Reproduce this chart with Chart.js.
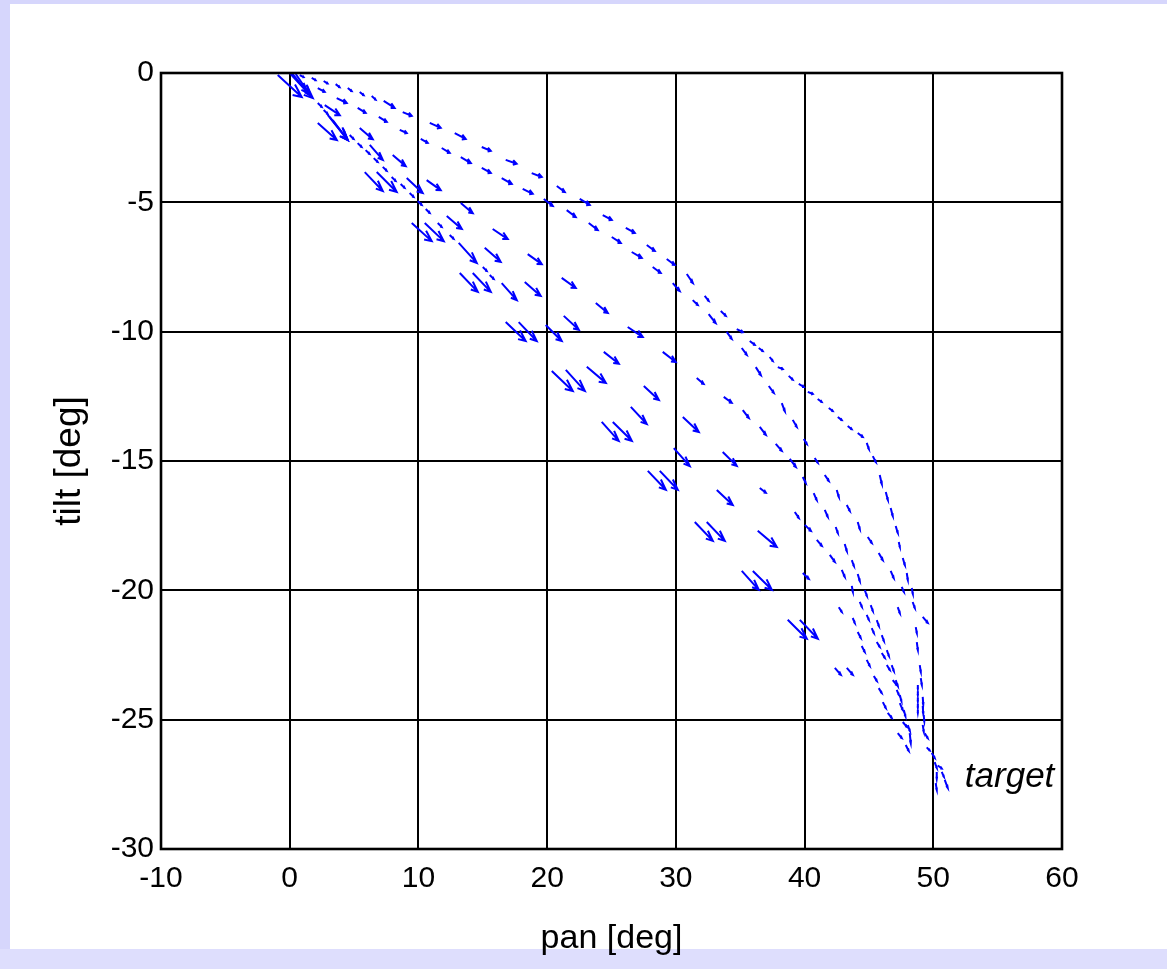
<!DOCTYPE html>
<html><head><meta charset="utf-8">
<script src="https://cdn.jsdelivr.net/npm/chart.js@4.4.1/dist/chart.umd.min.js"></script>
<style>html,body{margin:0;padding:0;background:#fff;overflow:hidden}canvas{display:block}</style>
</head><body>
<canvas id="c" width="1167" height="969"></canvas>
<script>
// axis ticks
const xTicks = [-10, 0, 10, 20, 30, 40, 50, 60];
const yTicks = [-30, -25, -20, -15, -10, -5, 0];

// quiver arrows: [pan, tilt, dPan, dTilt]
const longA = [
  [-0.93,-0.08,1.86,-0.85],[2.18,-1.93,1.48,-0.66],[5.83,-3.83,1.40,-0.73],[9.48,-5.80,1.55,-0.70],
  [13.21,-7.73,1.40,-0.73],[16.78,-9.63,1.55,-0.73],[20.36,-11.52,1.63,-0.77],[24.24,-13.49,1.32,-0.73],
  [27.82,-15.38,1.40,-0.73],[31.47,-17.36,1.40,-0.73],[35.12,-19.25,1.32,-0.73],[38.69,-21.14,1.48,-0.73],
  [42.35,-23.0,0.47,-0.27]
];
const longB = [
  [0,0,1.79,-0.97],[2.95,-1.62,1.55,-0.97],[6.76,-3.83,1.55,-0.77],[10.49,-5.80,1.48,-0.70],
  [14.22,-7.73,1.40,-0.73],[17.79,-9.63,1.40,-0.73],[21.45,-11.48,1.48,-0.81],[25.10,-13.49,1.48,-0.73],
  [28.75,-15.38,1.40,-0.73],[32.40,-17.36,1.40,-0.73],[35.98,-19.25,1.48,-0.73],[39.63,-21.14,1.40,-0.73],
  [43.28,-23.0,0.47,-0.27]
];
const bundle = [
  [0.16,0,1.24,-0.77],[0.47,-0.04,1.17,-0.85],[3.1,-1.7,1.4,-0.89],[3.34,-1.82,1.17,-0.77]
];
const pathUA = [
  [0.78,-0.08,0.3,-0.08],[1.71,-0.19,0.3,-0.09],[2.64,-0.31,0.3,-0.1],[3.57,-0.43,0.3,-0.12],
  [4.51,-0.58,0.3,-0.12],[5.44,-0.73,0.3,-0.13],[6.37,-0.89,0.3,-0.14],[7.3,-1.08,0.85,-0.27],
  [8.78,-1.51,0.70,-0.15],[10.88,-1.93,0.85,-0.19],[12.82,-2.32,0.85,-0.23],[14.92,-2.86,0.70,-0.15],
  [16.78,-3.36,0.85,-0.15],[18.8,-3.87,0.78,-0.15],[20.75,-4.37,0.62,-0.23],[22.53,-4.87,0.78,-0.23],
  [24.32,-5.49,0.70,-0.19],[26.11,-5.99,0.70,-0.19],[27.74,-6.65,0.62,-0.23],[29.29,-7.19,0.62,-0.23],
  [30.85,-7.77,0.47,-0.35],[32.24,-8.62,0.31,-0.19],[33.49,-9.2,0.39,-0.19],[34.73,-9.9,0.47,-0.12],
  [35.74,-10.36,0.39,-0.15],[36.44,-10.63,0.31,-0.12],[37.29,-10.98,0.23,-0.15],[37.92,-11.37,0.39,-0.08],
  [38.77,-11.71,0.31,-0.15],[39.55,-12.02,0.39,-0.12],[40.25,-12.33,0.39,-0.08],[41.02,-12.6,0.31,-0.12],
  [41.88,-12.95,0.31,-0.12],[42.58,-13.3,0.31,-0.12],[43.35,-13.65,0.31,-0.12],[44.13,-13.92,0.39,-0.15],
  [44.83,-14.3,0.16,-0.23],[45.3,-14.81,0.23,-0.23],[45.84,-15.54,0.16,-0.35],[46.31,-16.2,0.16,-0.31],
  [46.69,-16.82,0.16,-0.31],[47.08,-17.51,0.16,-0.27],[47.32,-18.13,0.08,-0.19],[47.63,-18.75,0.16,-0.27],
  [47.94,-19.33,0.08,-0.27],[48.33,-19.91,0.08,-0.23],[48.4,-20.45,0.16,-0.23],[49.18,-21.03,0.39,-0.23],
  [48.8,-23.66,0,-0.15],[48.8,-23.9,0,-0.15],[48.8,-24.14,0,-0.15],[48.8,-24.38,0,-0.15],[48.8,-24.62,0,-0.12],
  [50.35,-26.77,0.31,-0.12],[50.66,-27.02,0.16,-0.19],[50.89,-27.33,0.23,-0.31]
];
const pathUB = [
  [2.18,-0.58,0.54,-0.15],[3.65,-0.97,0.78,-0.19],[5.28,-1.35,0.62,-0.19],[6.92,-1.7,0.62,-0.19],
  [8.55,-2.2,0.54,-0.12],[10.18,-2.55,0.54,-0.15],[11.81,-2.9,0.62,-0.19],[13.29,-3.25,0.78,-0.23],
  [14.92,-3.67,0.70,-0.19],[16.47,-4.06,0.78,-0.23],[18.1,-4.48,0.78,-0.19],[19.74,-4.87,0.70,-0.27],
  [21.52,-5.3,0.70,-0.27],[23.23,-5.8,0.70,-0.27],[25.02,-6.34,0.70,-0.23],[26.57,-6.92,0.78,-0.23],
  [28.2,-7.5,0.62,-0.23],[29.76,-8.12,0.54,-0.31],[31.31,-8.78,0.39,-0.19],[32.55,-9.32,0.54,-0.35],
  [33.95,-10.01,0.39,-0.27],[35.12,-10.63,0.39,-0.27],[36.21,-11.37,0.39,-0.31],[37.22,-12.1,0.39,-0.27],
  [38.23,-12.76,0.23,-0.31],[39.08,-13.41,0.31,-0.27],[39.94,-14.15,0.23,-0.19],[40.79,-14.88,0.23,-0.19],
  [41.57,-15.54,0.31,-0.23],[42.5,-16.12,0.16,-0.27],[43.28,-16.7,0.23,-0.23],[44.13,-17.36,0.16,-0.27],
  [44.91,-17.94,0.31,-0.23],[45.76,-18.56,0.31,-0.27],[46.69,-19.25,0.23,-0.27],[47.55,-19.87,0.16,-0.19],
  [47.24,-20.65,0.16,-0.23],[48.64,-21.42,0.08,-0.23],[48.72,-22.0,0.08,-0.31],[48.95,-22.89,0.08,-0.27],
  [49.03,-23.39,0.08,-0.27],[49.18,-24.12,0.04,-0.3],[49.18,-24.47,0.04,-0.3],[49.26,-24.82,0.04,-0.25],
  [49.18,-25.2,0.08,-0.27],[49.34,-25.53,0.23,-0.19],[49.49,-26.07,0.23,-0.12],[49.88,-26.29,0.23,-0.19],
  [50.11,-26.64,0.16,-0.23],[50.27,-27.02,0,-0.27],[50.19,-27.45,0.08,-0.27]
];
const pathUC = [
  [2.72,-1.24,1.17,-0.39],[5.44,-2.13,1.01,-0.43],[8.0,-3.17,1.01,-0.43],[10.64,-4.14,1.09,-0.39],
  [13.29,-5.03,0.93,-0.39],[15.77,-6.03,1.17,-0.39],[18.49,-7.0,1.09,-0.39],[21.13,-7.92,1.09,-0.39],
  [23.78,-8.89,0.93,-0.39],[26.26,-9.82,1.17,-0.39],[28.98,-10.78,1.01,-0.39],[31.62,-11.79,0.54,-0.23],
  [33.72,-12.52,0.62,-0.23],[35.2,-13.03,0.47,-0.31],[36.52,-13.68,0.47,-0.31],[37.76,-14.34,0.47,-0.27],
  [38.85,-14.92,0.47,-0.31],[39.86,-15.62,0.23,-0.23],[40.71,-16.24,0.23,-0.27],[41.57,-16.89,0.23,-0.27],
  [42.42,-17.55,0.16,-0.23],[43.12,-18.21,0.16,-0.27],[43.67,-18.83,0.16,-0.23],[44.13,-19.37,0.16,-0.27],
  [44.68,-19.99,0.16,-0.23],[45.14,-20.57,0.16,-0.23],[45.61,-21.15,0.16,-0.23],[46.0,-21.73,0.16,-0.23],
  [46.39,-22.31,0.16,-0.23],[46.77,-22.89,0.16,-0.23],[47.08,-23.47,0.16,-0.23],[47.4,-24.05,0.12,-0.23],
  [47.71,-24.63,0.12,-0.23],[48.02,-25.21,0.16,-0.23]
];
const pathUD = [
  [6.22,-2.78,1.01,-0.58],[9.09,-4.06,1.24,-0.58],[12.2,-5.53,1.17,-0.50],[15.15,-6.76,1.24,-0.54],
  [18.26,-8.08,1.24,-0.54],[21.29,-9.39,1.17,-0.54],[24.4,-10.78,1.17,-0.46],[27.51,-12.10,1.17,-0.54],
  [30.54,-13.3,1.24,-0.58],[33.64,-14.65,1.09,-0.54],[36.52,-16.04,0.47,-0.19],[39.24,-16.97,0.31,-0.23],
  [40.02,-17.47,0.47,-0.23],[40.95,-18.05,0.39,-0.23],[41.96,-18.63,0.39,-0.27],[42.89,-19.21,0.23,-0.27],
  [43.67,-19.83,0.08,-0.23],[44.29,-20.45,0.16,-0.19],[44.83,-20.95,0.16,-0.19],[45.22,-21.46,0.16,-0.19],
  [45.61,-22.0,0.23,-0.19],[46.0,-22.42,0.23,-0.19],[46.39,-22.89,0.23,-0.19],[46.85,-23.47,0.31,-0.19],
  [47.16,-23.85,0.16,-0.19],[47.4,-24.36,0.23,-0.27],[47.63,-25.09,0.31,-0.19],[48.17,-25.52,0.08,-0.39]
];
const pathUE = [
  [2.18,-1.16,0.3,-0.15],[2.64,-1.43,0.3,-0.15],[4.66,-2.4,0.3,-0.15],[5.28,-2.71,0.3,-0.15],
  [5.9,-2.98,0.3,-0.15],[6.53,-3.29,0.3,-0.15],[7.23,-3.63,0.3,-0.15],[7.92,-4.02,0.3,-0.15],
  [8.62,-4.29,0.3,-0.15],[9.32,-4.64,0.3,-0.15],[9.95,-4.95,0.3,-0.15],[10.57,-5.26,0.3,-0.15],
  [11.5,-5.8,0.3,-0.15],[12.43,-6.26,0.3,-0.15],[13.13,-6.57,1.40,-0.77],[15.0,-7.5,0.3,-0.15],
  [15.54,-7.81,0.3,-0.15],[16.47,-8.12,1.17,-0.66],[19.89,-9.74,1.24,-0.62],[23.08,-11.36,1.48,-0.62],
  [26.5,-12.91,1.24,-0.66],[29.84,-14.5,1.24,-0.70],[33.18,-16.12,1.24,-0.58],[36.36,-17.70,1.48,-0.62],
  [39.86,-19.33,0.47,-0.23],[42.66,-20.65,0.23,-0.19],[43.74,-21.07,0.16,-0.19],[44.13,-21.61,0.23,-0.23],
  [44.44,-22.15,0.23,-0.23],[44.83,-22.69,0.23,-0.23],[45.38,-23.31,0.23,-0.19],[45.76,-23.78,0.23,-0.19],
  [46.08,-24.32,0.23,-0.23],[46.46,-24.74,0.31,-0.19],[47.24,-25.52,0.31,-0.19],[47.86,-25.98,0.23,-0.23]
];
const targetLabel = { text: 'target', x: 52.45, y: -27.6 };

const arrowGroups = [longA, longB, bundle, pathUA, pathUB, pathUC, pathUD, pathUE];

Chart.defaults.font.family = "'Liberation Sans', Arial, Helvetica, sans-serif";
Chart.defaults.color = '#000';

const bgPlugin = {
  id: 'bg',
  beforeDraw(chart) {
    const ctx = chart.ctx;
    ctx.save();
    ctx.fillStyle = '#d6d6fc';
    ctx.fillRect(0, 0, chart.width, chart.height);
    ctx.fillStyle = '#dedefd';
    ctx.fillRect(0, 949, chart.width, chart.height - 949);
    ctx.fillStyle = '#ffffff';
    ctx.fillRect(10, 4, chart.width - 10, 945);
    ctx.restore();
  }
};

const quiverPlugin = {
  id: 'quiver',
  afterDatasetsDraw(chart) {
    const ctx = chart.ctx;
    const xs = chart.scales.x, ys = chart.scales.y;
    const X = t => xs.getPixelForValue(t), Y = t => ys.getPixelForValue(t);
    const a = 0.33, b = 0.33;
    ctx.save();
    ctx.strokeStyle = '#0000ff';
    ctx.lineWidth = 2;
    ctx.lineCap = 'butt';
    ctx.lineJoin = 'miter';
    chart.data.datasets.forEach(ds => {
      ds.data.forEach(p => {
        const {x, y, u, v} = p;
        ctx.beginPath();
        ctx.moveTo(X(x), Y(y));
        ctx.lineTo(X(x + u), Y(y + v));
        ctx.moveTo(X(x + u - a * (u + b * v)), Y(y + v - a * (v - b * u)));
        ctx.lineTo(X(x + u), Y(y + v));
        ctx.lineTo(X(x + u - a * (u - b * v)), Y(y + v - a * (v + b * u)));
        ctx.stroke();
      });
    });
    // frame
    const ca = chart.chartArea;
    ctx.strokeStyle = '#000';
    ctx.lineWidth = 2.6;
    ctx.strokeRect(ca.left, ca.top, ca.right - ca.left, ca.bottom - ca.top);
    // label
    ctx.fillStyle = '#000';
    ctx.font = "italic 35px 'Liberation Sans', Arial, sans-serif";
    ctx.textAlign = 'left';
    ctx.textBaseline = 'alphabetic';
    ctx.fillText(targetLabel.text, X(targetLabel.x), Y(targetLabel.y));
    ctx.restore();
  }
};

new Chart(document.getElementById('c'), {
  type: 'scatter',
  data: {
    datasets: arrowGroups.map(g => ({
      data: g.map(([x, y, u, v]) => ({x, y, u, v})),
      pointRadius: 0, showLine: false
    }))
  },
  options: {
    responsive: false, animation: false, devicePixelRatio: 1,
    layout: { padding: { left: 0, top: 73, right: 105, bottom: 0 } },
    plugins: { legend: { display: false }, tooltip: { enabled: false } },
    scales: {
      x: {
        type: 'linear', min: -10, max: 60,
        afterBuildTicks: s => { s.ticks = xTicks.map(v => ({ value: v })); },
        afterFit: s => { s.height = 120; },
        grid: { color: '#000', lineWidth: 2, drawTicks: false },
        border: { display: false },
        ticks: { color: '#000', font: { size: 30 }, padding: 12, maxRotation: 0, autoSkip: false },
        title: { display: true, text: 'pan [deg]', color: '#000', font: { size: 34 }, padding: { top: 0, bottom: 10 } }
      },
      y: {
        type: 'linear', min: -30, max: 0,
        afterBuildTicks: s => { s.ticks = yTicks.map(v => ({ value: v })); },
        afterFit: s => { s.width = 161; },
        grid: { color: '#000', lineWidth: 2, drawTicks: false },
        border: { display: false },
        ticks: { color: '#000', font: { size: 30 }, padding: 7, autoSkip: false },
        title: { display: true, text: 'tilt [deg]', color: '#000', font: { size: 37 }, padding: { top: 48, bottom: 0 } }
      }
    }
  },
  plugins: [bgPlugin, quiverPlugin]
});
</script>
</body></html>
